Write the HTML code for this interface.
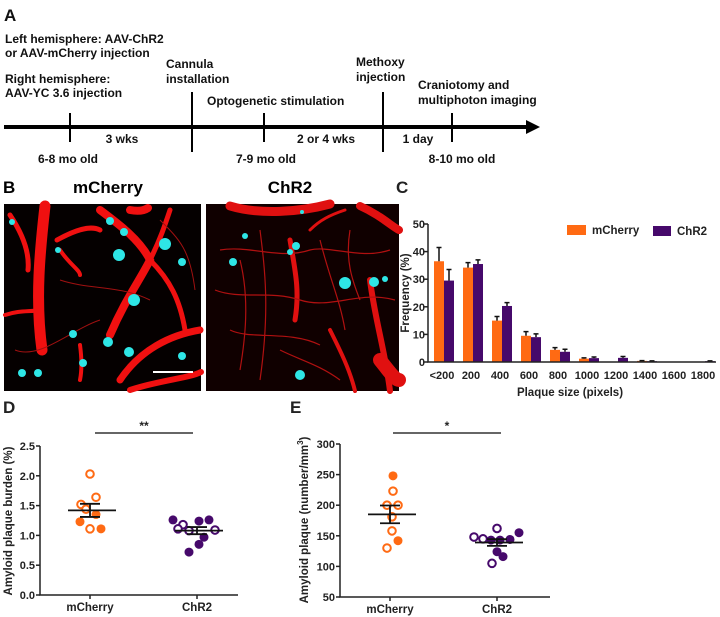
<!DOCTYPE html>
<html><head><meta charset="utf-8"><style>
body{margin:0;background:#fff}
svg{display:block;font-family:"Liberation Sans",Arial,sans-serif;font-weight:bold}
</style></head><body>
<svg id="fig" width="720" height="617" viewBox="0 0 720 617" xmlns="http://www.w3.org/2000/svg">
<g id="panelA" font-size="12" fill="#111">
<text x="4" y="21" font-size="17">A</text>
<text x="5" y="43">Left hemisphere: AAV-ChR2</text>
<text x="5" y="57">or AAV-mCherry injection</text>
<text x="5" y="83">Right hemisphere:</text>
<text x="5" y="97">AAV-YC 3.6 injection</text>
<text x="166" y="68">Cannula</text>
<text x="166" y="83">installation</text>
<text x="207" y="105">Optogenetic stimulation</text>
<text x="356" y="66">Methoxy</text>
<text x="356" y="81">injection</text>
<text x="418" y="89">Craniotomy and</text>
<text x="418" y="104">multiphoton imaging</text>
<line x1="4" y1="127" x2="528" y2="127" stroke="#000" stroke-width="4"/>
<polygon points="526,120 540,127 526,134" fill="#000"/>
<g stroke="#000" stroke-width="2">
<line x1="70" y1="113" x2="70" y2="142"/><line x1="192" y1="92" x2="192" y2="152"/><line x1="264" y1="113" x2="264" y2="142"/><line x1="383" y1="92" x2="383" y2="152"/><line x1="452" y1="113" x2="452" y2="142"/>
</g>
<g text-anchor="middle">
<text x="122" y="143">3 wks</text>
<text x="326" y="143">2 or 4 wks</text>
<text x="418" y="143">1 day</text>
<text x="68" y="163">6-8 mo old</text>
<text x="266" y="163">7-9 mo old</text>
<text x="462" y="163">8-10 mo old</text>
</g>
</g>

<g id="panelB">
<text x="3" y="193" font-size="17">B</text>
<text x="108" y="193" font-size="17" text-anchor="middle">mCherry</text>
<text x="290" y="193" font-size="17" text-anchor="middle">ChR2</text>
<g>
<rect x="4" y="204" width="197" height="187" fill="#050000"/>
<g stroke="#f01010" fill="none" stroke-linecap="round">
<path d="M45,206 C40,250 35,300 42,350" stroke-width="11"/>
<path d="M10,215 C20,230 30,250 28,270" stroke-width="5"/>
<path d="M100,210 C120,225 140,240 150,260 C140,280 125,300 110,335" stroke-width="8"/>
<path d="M150,260 C160,240 165,225 170,210" stroke-width="5"/>
<path d="M150,260 C170,280 180,300 185,330" stroke-width="5"/>
<path d="M120,380 C140,350 170,335 200,330" stroke-width="7"/>
<path d="M57,240 C75,230 90,225 100,230" stroke-width="5"/>
<path d="M60,250 C70,265 80,270 80,275" stroke-width="4"/>
<path d="M5,315 C20,310 30,312 40,310" stroke-width="4"/>
<path d="M80,345 C82,360 82,370 80,380" stroke-width="4"/>
<path d="M130,210 C140,212 145,210 148,208" stroke-width="8"/>
<path d="M130,390 C160,380 190,378 201,372" stroke-width="6"/>
</g>
<g stroke="#a01010" fill="none" stroke-width="1">
<path d="M60,280 C90,290 120,285 150,300"/><path d="M15,350 C40,360 70,330 100,320"/><path d="M160,220 C180,240 190,250 195,290"/>
</g>
<g fill="#2ee6e6">
<circle cx="119" cy="255" r="6"/><circle cx="134" cy="300" r="6"/><circle cx="165" cy="244" r="6"/><circle cx="182" cy="262" r="4"/><circle cx="110" cy="221" r="4"/><circle cx="124" cy="232" r="4"/><circle cx="73" cy="334" r="4"/><circle cx="108" cy="342" r="5"/><circle cx="129" cy="352" r="5"/><circle cx="182" cy="356" r="4"/><circle cx="83" cy="363" r="4"/><circle cx="38" cy="373" r="4"/><circle cx="22" cy="373" r="4"/><circle cx="12" cy="222" r="3"/><circle cx="58" cy="250" r="3"/>
</g>
<line x1="153" y1="372" x2="193" y2="372" stroke="#fff" stroke-width="2"/>
</g>
<g>
<rect x="206" y="204" width="193" height="187" fill="#100000"/>
<g stroke="#e01010" fill="none" stroke-linecap="round">
<path d="M230,206 C260,215 300,212 330,204" stroke-width="9"/>
<path d="M360,206 C380,215 390,225 399,230" stroke-width="8"/>
<path d="M370,280 C375,320 385,350 390,391" stroke-width="6"/>
<path d="M380,360 C388,370 395,380 399,380" stroke-width="14"/>
<path d="M290,240 C295,270 300,290 295,320" stroke-width="5"/>
<path d="M330,330 C340,350 350,370 355,391" stroke-width="4"/>
<path d="M310,230 C320,220 330,215 345,210" stroke-width="3"/>
</g>
<g stroke="#b01010" fill="none" stroke-width="1.2">
<path d="M220,250 C250,245 280,260 310,250 C330,245 360,260 390,250"/><path d="M215,290 C240,300 270,290 300,300 C330,310 360,290 395,300"/><path d="M230,330 C250,340 290,330 320,345"/><path d="M260,230 C265,270 270,310 260,380"/><path d="M320,240 C330,280 340,300 345,330"/><path d="M240,260 C250,300 245,340 240,370"/><path d="M350,230 C345,260 352,280 360,300"/><path d="M280,350 C300,360 320,365 340,380"/>
</g>
<g fill="#2ee6e6">
<circle cx="345" cy="283" r="6"/><circle cx="374" cy="282" r="5"/><circle cx="385" cy="279" r="3"/><circle cx="296" cy="246" r="4"/><circle cx="290" cy="252" r="3"/><circle cx="233" cy="262" r="4"/><circle cx="245" cy="236" r="3"/><circle cx="300" cy="375" r="5"/><circle cx="302" cy="212" r="2"/>
</g>
</g>
</g>

<g id="panelC" fill="#222"></g>
<g id="panelD" fill="#222"></g>
<g id="panelE" fill="#222"></g>
</svg>
<script>
const NS='http://www.w3.org/2000/svg';
function mk(parent,tag,attrs,text){const e=document.createElementNS(NS,tag);for(const k in attrs)e.setAttribute(k,attrs[k]);if(text!==undefined)e.textContent=text;parent.appendChild(e);return e;}

/* ---------- Panel C data ---------- */
const histCategories=['<200','200','400','600','800','1000','1200','1400','1600','1800'];
const histMcherry=[36.5,34.2,15.0,9.5,4.4,1.2,0,0.4,0,0];
const histMcherryErr=[5.0,1.8,1.5,1.5,0.8,0.3,0,0.1,0,0];
const histChr2=[29.5,35.5,20.3,9.0,3.7,1.4,1.5,0.3,0,0.3];
const histChr2Err=[4.0,1.5,1.2,1.2,0.9,0.4,0.5,0.1,0,0.1];
const histYTicks=[0,10,20,30,40,50];

/* ---------- Panel D data ---------- */
const burdenGroups=['mCherry','ChR2'];
const burdenMcherry=[2.03,1.64,1.52,1.44,1.35,1.23,1.11,1.11];
const burdenMcherryOpen=[1,1,1,1,0,0,1,0];
const burdenMcherryJitter=[0,6,-9,-4,6,-10,0,11];
const burdenChr2=[1.26,1.18,1.11,1.08,1.24,1.26,0.97,0.85,0.72,1.09];
const burdenChr2Open=[0,1,1,1,0,0,0,0,0,1];
const burdenChr2Jitter=[-24,-14,-19,-8,2,12,7,2,-8,18];
const burdenMean=[1.42,1.08];
const burdenSem=[0.11,0.06];
const burdenYTicks=[0,0.5,1.0,1.5,2.0,2.5];

/* ---------- Panel E data ---------- */
const densityMcherry=[248,223,200,200,181,158,142,130];
const densityMcherryOpen=[0,1,1,1,1,1,0,1];
const densityMcherryJitter=[3,3,-3,8,2,2,8,-3];
const densityChr2=[148,145,143,143,162,144,155,124,116,105];
const densityChr2Open=[1,1,0,0,1,0,0,0,0,1];
const densityChr2Jitter=[-23,-14,-6,3,0,13,22,0,6,-5];
const densityMean=[185,139];
const densitySem=[14.5,5.5];
const densityYTicks=[50,100,150,200,250,300];

const ORANGE='#ff6a13', PURPLE='#46096b';

/* ---------- Panel C ---------- */
(function(){
const g=document.getElementById('panelC');
const x0=428,y0=362,yTop=224;
const y=v=>y0-(v/50)*(y0-yTop);
const xc=i=>442+i*29;
mk(g,'text',{x:396,y:193,'font-size':17,},'C');
histYTicks.forEach(t=>{
 const tk=mk(g,'line',{x1:x0-4,x2:x0,y1:y(t),y2:y(t),stroke:'#222','stroke-width':1.5});
 
 
 const lb=mk(g,'text',{x:x0-3,y:y(t)+4,'text-anchor':'end','font-size':11},String(t));
 
 
});
histCategories.forEach((c,i)=>{
 [[histMcherry,histMcherryErr,ORANGE,-8],[histChr2,histChr2Err,PURPLE,2]].forEach(([vals,errs,col,off],s)=>{
  const v=vals[i];
  if(v>0){
   const b=mk(g,'rect',{x:xc(i)+off,y:y(v),width:10,height:y0-y(v),fill:col});
   
   
   const ex=xc(i)+off+5;
   const e=mk(g,'path',{d:`M${ex},${y(v)}V${y(v+errs[i])}M${ex-2.5},${y(v+errs[i])}H${ex+2.5}`,stroke:'#111','stroke-width':1.5,fill:'none'});
   
   
  }
 });
 const l=mk(g,'text',{x:xc(i),y:y0+17,'text-anchor':'middle','font-size':11},c);
 
 
});
const ax=mk(g,'path',{d:`M${x0},${yTop}V${y0}H716`,stroke:'#222','stroke-width':1.5,fill:'none'});


const xt=mk(g,'text',{x:570,y:396,'text-anchor':'middle','font-size':11.5},'Plaque size (pixels)');


const yt=mk(g,'text',{transform:'translate(409,293) rotate(-90)','text-anchor':'middle','font-size':11.5},'Frequency (%)');


const s1=mk(g,'rect',{x:567,y:225,width:19,height:10,fill:ORANGE});


const t1=mk(g,'text',{x:592,y:234,'font-size':11.5},'mCherry');


const s2=mk(g,'rect',{x:653,y:226,width:18,height:10,fill:PURPLE});


const t2=mk(g,'text',{x:677,y:235,'font-size':11.5},'ChR2');


})();

/* ---------- scatter panels ---------- */
function scatter(gid,opt){
 const g=document.getElementById(gid);
 const {x0,y0,yTop,vMin,vMax,xEnd,gx,ticks,fmt,sets,mean,sem,lbl,sigX,sig}=opt;
 const y=v=>y0-(v-vMin)/(vMax-vMin)*(y0-yTop);
 const p=mk(g,'text',{x:opt.px,y:413,'font-size':17},lbl);
 
 
 ticks.forEach(t=>{
  const tk=mk(g,'line',{x1:x0-4,x2:x0,y1:y(t),y2:y(t),stroke:'#222','stroke-width':1.5});
  
  
  const tl=mk(g,'text',{x:x0-5,y:y(t)+4,'text-anchor':'end','font-size':11},fmt(t));
  
  
 });
 const ax=mk(g,'path',{d:`M${x0},${yTop}V${y0}H${xEnd}`,stroke:'#222','stroke-width':1.5,fill:'none'});
 
 
 burdenGroups.forEach((name,i)=>{
  const tk=mk(g,'line',{x1:gx[i],x2:gx[i],y1:y0,y2:y0+4,stroke:'#222','stroke-width':1.5});
  
  
  const t=mk(g,'text',{x:gx[i],y:y0+16,'text-anchor':'middle','font-size':11.5},name);
  
  
 });
 sets.forEach(([vals,open,jit,col],i)=>{
  vals.forEach((v,k)=>{
   const c=mk(g,'circle',{cx:gx[i]+jit[k],cy:y(v),r:open[k]?3.8:4.5,fill:open[k]?'#fff':col,stroke:col,'stroke-width':open[k]?2:0});
   
   
  });
  const m=mean[i],s=sem[i];
  const ml=mk(g,'path',{d:`M${gx[i]-22},${y(m)}H${gx[i]+26}M${gx[i]-10},${y(m+s)}H${gx[i]+10}M${gx[i]-10},${y(m-s)}H${gx[i]+10}M${gx[i]},${y(m-s)}V${y(m+s)}`,stroke:'#111','stroke-width':1.8,fill:'none'});
  
  
 });
 const sl=mk(g,'line',{x1:sigX[0],x2:sigX[1],y1:433,y2:433,stroke:'#333','stroke-width':1.5});
 
 
 const st=mk(g,'text',{x:(sigX[0]+sigX[1])/2,y:430,'text-anchor':'middle','font-size':12},sig);
 
 
 return {g,y};
}
const d=scatter('panelD',{px:3,x0:40,y0:595,yTop:446,vMin:0,vMax:2.5,xEnd:238,gx:[90,197],ticks:burdenYTicks,fmt:t=>t.toFixed(1),
 sets:[[burdenMcherry,burdenMcherryOpen,burdenMcherryJitter,ORANGE],[burdenChr2,burdenChr2Open,burdenChr2Jitter,PURPLE]],
 mean:burdenMean,sem:burdenSem,lbl:'D',sigX:[95,193],sig:'**'});
const dy=mk(d.g,'text',{transform:'translate(12,521) rotate(-90)','text-anchor':'middle','font-size':11.5},'Amyloid plaque burden (%)');



const e=scatter('panelE',{px:290,x0:340,y0:597,yTop:444,vMin:50,vMax:300,xEnd:550,gx:[390,497],ticks:densityYTicks,fmt:t=>String(t),
 sets:[[densityMcherry,densityMcherryOpen,densityMcherryJitter,ORANGE],[densityChr2,densityChr2Open,densityChr2Jitter,PURPLE]],
 mean:densityMean,sem:densitySem,lbl:'E',sigX:[393,501],sig:'*'});
const ey=mk(e.g,'text',{transform:'translate(308,520) rotate(-90)','text-anchor':'middle','font-size':11.5},'Amyloid plaque (number/mm');


const sup=mk(ey,'tspan',{dy:-5,'font-size':8},'3');


const cl=mk(ey,'tspan',{dy:5},')');


</script>
</body></html>
